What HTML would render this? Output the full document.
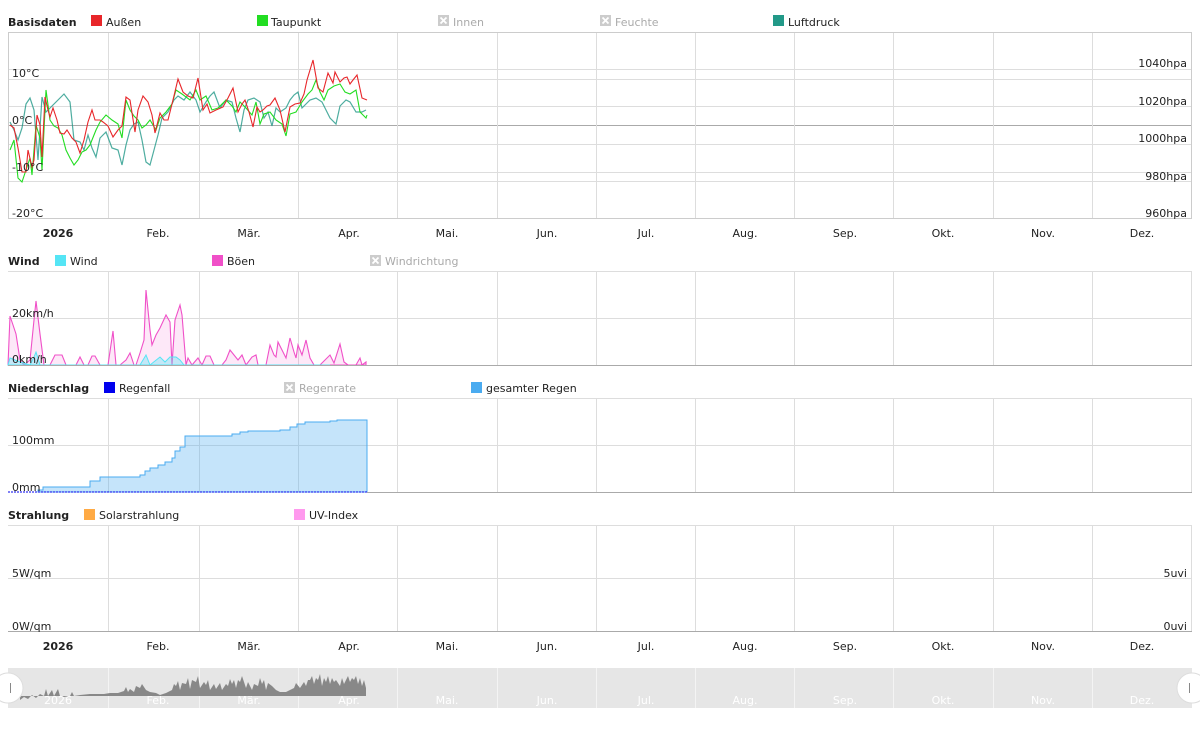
<!DOCTYPE html>
<html><head><meta charset="utf-8"><style>
body{margin:0;background:#fff;width:1200px;height:750px;overflow:hidden}
svg text{font-family:"DejaVu Sans","Liberation Sans",sans-serif;font-size:11px;fill:#222}
.b{font-weight:bold}
.g{fill:#aaa}
</style></head><body>
<svg width="1200" height="750" xmlns="http://www.w3.org/2000/svg">
<!-- Panel 1 -->
<text x="8" y="26" class="b">Basisdaten</text>
<rect x="91" y="15" width="11" height="11" fill="#e8262a"/><text x="106" y="26">Außen</text>
<rect x="257" y="15" width="11" height="11" fill="#22dd22"/><text x="271" y="26">Taupunkt</text>
<rect x="438" y="15" width="11" height="11" fill="#ccc"/><path d="M440.5,17.5l6,6M446.5,17.5l-6,6" stroke="#fff" stroke-width="1.8"/><text x="453" y="26" class="g">Innen</text>
<rect x="600" y="15" width="11" height="11" fill="#ccc"/><path d="M602.5,17.5l6,6M608.5,17.5l-6,6" stroke="#fff" stroke-width="1.8"/><text x="615" y="26" class="g">Feuchte</text>
<rect x="773" y="15" width="11" height="11" fill="#229988"/><text x="788" y="26">Luftdruck</text>
<g stroke="#ddd"><line x1="8" x2="1192" y1="69.5" y2="69.5"/><line x1="8" x2="1192" y1="79.5" y2="79.5"/><line x1="8" x2="1192" y1="106.5" y2="106.5"/><line x1="8" x2="1192" y1="144.5" y2="144.5"/><line x1="8" x2="1192" y1="172.5" y2="172.5"/><line x1="8" x2="1192" y1="181.5" y2="181.5"/></g>
<line x1="8" x2="1192" y1="125.5" y2="125.5" stroke="#aaa"/>
<g stroke="#ddd"><line x1="108.5" x2="108.5" y1="32" y2="218"/><line x1="199.5" x2="199.5" y1="32" y2="218"/><line x1="298.5" x2="298.5" y1="32" y2="218"/><line x1="397.5" x2="397.5" y1="32" y2="218"/><line x1="497.5" x2="497.5" y1="32" y2="218"/><line x1="596.5" x2="596.5" y1="32" y2="218"/><line x1="695.5" x2="695.5" y1="32" y2="218"/><line x1="794.5" x2="794.5" y1="32" y2="218"/><line x1="893.5" x2="893.5" y1="32" y2="218"/><line x1="993.5" x2="993.5" y1="32" y2="218"/><line x1="1092.5" x2="1092.5" y1="32" y2="218"/></g>
<rect x="8.5" y="32.5" width="1183" height="186" fill="none" stroke="#ccc"/>
<polyline fill="none" stroke="#229988" stroke-opacity=".8" stroke-width="1.2" points="10,122 14,130 18,140 22,128 26,104 30,98 34,110 38,160 42,97 46,112 52,106 58,100 64,94 70,102 74,140 80,142 84,150 88,135 92,148 96,157 100,138 106,132 112,148 118,150 122,165 126,145 130,130 134,124 138,122 142,140 146,162 150,165 154,150 158,135 162,118 168,112 174,100 178,96 184,100 190,92 196,100 200,112 206,102 210,96 214,92 220,108 226,100 232,102 236,118 240,132 244,110 248,100 254,98 260,102 264,118 268,112 272,126 276,108 280,112 286,108 290,100 294,95 298,92 302,108 310,100 316,98 322,102 326,110 330,118 336,124 340,106 346,100 350,102 356,112 362,112 366,110"/>
<polyline fill="none" stroke="#22dd22" stroke-width="1.1" points="10,150 14,140 18,178 22,182 26,170 30,158 32,175 36,125 40,138 42,170 46,90 50,120 54,126 58,128 62,135 66,150 70,158 74,165 78,160 82,152 86,150 90,145 96,130 100,122 106,115 112,120 118,124 122,138 126,100 130,110 134,116 138,120 142,128 146,125 150,120 156,130 160,118 166,112 172,104 176,90 182,94 190,100 196,90 200,100 206,96 212,110 218,108 226,100 232,106 236,112 240,102 246,108 252,115 256,102 260,124 264,114 270,112 276,120 282,124 286,136 290,114 296,112 302,102 308,94 312,90 316,80 320,92 324,100 328,90 334,86 340,84 345,92 350,94 356,90 360,112 366,118 367,115"/>
<polyline fill="none" stroke="#e8262a" stroke-width="1.1" points="10,125 14,128 18,148 22,172 26,172 28,150 32,167 34,160 37,115 40,125 42,157 45,97 48,110 50,117 53,108 57,120 60,133 64,134 67,130 72,138 76,142 80,153 84,140 88,122 92,110 95,120 100,120 103,122 108,126 113,137 118,130 122,126 126,97 130,100 135,132 138,110 143,96 148,102 152,115 155,133 160,113 164,120 168,120 173,100 178,79 183,92 188,96 193,98 198,78 203,110 207,104 210,113 216,110 223,107 228,98 233,88 238,112 242,104 245,100 249,112 253,127 257,107 260,112 263,110 267,106 270,105 275,98 280,110 285,132 290,107 295,104 300,103 304,94 307,80 313,60 318,88 323,92 328,73 333,83 335,72 340,82 344,78 347,77 350,84 353,80 357,75 362,98 367,100"/>
<text x="12" y="77">10°C</text><text x="12" y="124">0°C</text><text x="12" y="171">-10°C</text><text x="12" y="217">-20°C</text>
<g text-anchor="end"><text x="1187" y="67">1040hpa</text><text x="1187" y="105">1020hpa</text><text x="1187" y="142">1000hpa</text><text x="1187" y="180">980hpa</text><text x="1187" y="217">960hpa</text></g>
<g text-anchor="middle"><text x="58" y="237" class="b">2026</text><text x="158" y="237">Feb.</text><text x="249" y="237">Mär.</text><text x="349" y="237">Apr.</text><text x="447" y="237">Mai.</text><text x="547" y="237">Jun.</text><text x="646" y="237">Jul.</text><text x="745" y="237">Aug.</text><text x="845" y="237">Sep.</text><text x="943" y="237">Okt.</text><text x="1043" y="237">Nov.</text><text x="1142" y="237">Dez.</text></g>

<!-- Panel 2 Wind -->
<text x="8" y="265" class="b">Wind</text>
<rect x="55" y="255" width="11" height="11" fill="#55e5f5"/><text x="70" y="265">Wind</text>
<rect x="212" y="255" width="11" height="11" fill="#f050c8"/><text x="227" y="265">Böen</text>
<rect x="370" y="255" width="11" height="11" fill="#ccc"/><path d="M372.5,257.5l6,6M378.5,257.5l-6,6" stroke="#fff" stroke-width="1.8"/><text x="385" y="265" class="g">Windrichtung</text>
<line x1="8" x2="1192" y1="271.5" y2="271.5" stroke="#ddd"/>
<line x1="8" x2="1192" y1="318.5" y2="318.5" stroke="#ddd"/>
<g stroke="#ddd"><line x1="108.5" x2="108.5" y1="271" y2="365"/><line x1="199.5" x2="199.5" y1="271" y2="365"/><line x1="298.5" x2="298.5" y1="271" y2="365"/><line x1="397.5" x2="397.5" y1="271" y2="365"/><line x1="497.5" x2="497.5" y1="271" y2="365"/><line x1="596.5" x2="596.5" y1="271" y2="365"/><line x1="695.5" x2="695.5" y1="271" y2="365"/><line x1="794.5" x2="794.5" y1="271" y2="365"/><line x1="893.5" x2="893.5" y1="271" y2="365"/><line x1="993.5" x2="993.5" y1="271" y2="365"/><line x1="1092.5" x2="1092.5" y1="271" y2="365"/><line x1="1191.5" x2="1191.5" y1="271" y2="365"/></g>
<polygon fill="#f050c8" fill-opacity=".13" stroke="#f050c8" stroke-width="1.1" points="10,316 16,334 20,360 24,365 30,360 34,320 36,301 40,334 44,365 50,365 55,355 62,355 66,365 70,365 76,365 80,357 84,365 88,365 92,356 95,356 100,365 108,365 113,331 116,365 120,365 126,360 130,353 134,365 136,365 140,353 144,340 146,290 150,330 152,345 156,335 160,328 166,315 170,322 172,365 175,320 180,305 182,315 186,365 188,358 192,365 198,358 202,365 206,356 210,356 214,365 222,365 226,360 230,350 234,355 238,360 242,355 246,365 252,357 256,355 258,365 266,365 270,345 274,355 276,357 278,342 282,350 286,358 290,338 294,352 296,358 298,345 302,355 306,340 310,358 314,365 320,365 330,355 334,363 340,344 344,362 348,365 356,365 360,358 362,365 366,362 366,365 8,365"/>
<polygon fill="#55e5f5" fill-opacity=".35" stroke="#55e5f5" stroke-width="1" points="10,358 20,362 30,365 34,357 36,352 40,365 140,365 146,355 150,365 160,357 165,362 170,357 176,357 180,360 184,365 330,365 8,365"/>
<line x1="8" x2="1192" y1="365.5" y2="365.5" stroke="#aaa"/>
<text x="12" y="317">20km/h</text><text x="12" y="363">0km/h</text>

<!-- Panel 3 Niederschlag -->
<text x="8" y="392" class="b">Niederschlag</text>
<rect x="104" y="382" width="11" height="11" fill="#0000ee"/><text x="119" y="392">Regenfall</text>
<rect x="284" y="382" width="11" height="11" fill="#ccc"/><path d="M286.5,384.5l6,6M292.5,384.5l-6,6" stroke="#fff" stroke-width="1.8"/><text x="299" y="392" class="g">Regenrate</text>
<rect x="471" y="382" width="11" height="11" fill="#4aabf0"/><text x="486" y="392">gesamter Regen</text>
<line x1="8" x2="1192" y1="398.5" y2="398.5" stroke="#ddd"/>
<line x1="8" x2="1192" y1="445.5" y2="445.5" stroke="#ddd"/>
<g stroke="#ddd"><line x1="108.5" x2="108.5" y1="398" y2="492"/><line x1="199.5" x2="199.5" y1="398" y2="492"/><line x1="298.5" x2="298.5" y1="398" y2="492"/><line x1="397.5" x2="397.5" y1="398" y2="492"/><line x1="497.5" x2="497.5" y1="398" y2="492"/><line x1="596.5" x2="596.5" y1="398" y2="492"/><line x1="695.5" x2="695.5" y1="398" y2="492"/><line x1="794.5" x2="794.5" y1="398" y2="492"/><line x1="893.5" x2="893.5" y1="398" y2="492"/><line x1="993.5" x2="993.5" y1="398" y2="492"/><line x1="1092.5" x2="1092.5" y1="398" y2="492"/><line x1="1191.5" x2="1191.5" y1="398" y2="492"/></g>
<polygon fill="#4aabf0" fill-opacity=".32" stroke="#4aabf0" stroke-width="1" points="38,492 38,490 43,490 43,487 90,487 90,481 100,481 100,477 140,477 140,475 145,475 145,471 150,471 150,468 158,468 158,465 165,465 165,462 172,462 172,458 175,458 175,451 180,451 180,447 185,447 185,436 232,436 232,434 240,434 240,432 248,432 248,431 280,431 280,430 290,430 290,427 297,427 297,424 305,424 305,422 330,422 330,421 337,421 337,420 367,420 367,492"/>
<line x1="8" x2="367" y1="492" y2="492" stroke="#0000ee" stroke-dasharray="2,1"/>
<line x1="367" x2="1192" y1="492.5" y2="492.5" stroke="#aaa"/>
<text x="12" y="444">100mm</text><text x="12" y="491">0mm</text>

<!-- Panel 4 Strahlung -->
<text x="8" y="519" class="b">Strahlung</text>
<rect x="84" y="509" width="11" height="11" fill="#ffaa44"/><text x="99" y="519">Solarstrahlung</text>
<rect x="294" y="509" width="11" height="11" fill="#ff99ee"/><text x="309" y="519">UV-Index</text>
<line x1="8" x2="1192" y1="525.5" y2="525.5" stroke="#ddd"/>
<line x1="8" x2="1192" y1="578.5" y2="578.5" stroke="#ddd"/>
<g stroke="#ddd"><line x1="108.5" x2="108.5" y1="525" y2="631"/><line x1="199.5" x2="199.5" y1="525" y2="631"/><line x1="298.5" x2="298.5" y1="525" y2="631"/><line x1="397.5" x2="397.5" y1="525" y2="631"/><line x1="497.5" x2="497.5" y1="525" y2="631"/><line x1="596.5" x2="596.5" y1="525" y2="631"/><line x1="695.5" x2="695.5" y1="525" y2="631"/><line x1="794.5" x2="794.5" y1="525" y2="631"/><line x1="893.5" x2="893.5" y1="525" y2="631"/><line x1="993.5" x2="993.5" y1="525" y2="631"/><line x1="1092.5" x2="1092.5" y1="525" y2="631"/><line x1="1191.5" x2="1191.5" y1="525" y2="631"/></g>
<line x1="8" x2="1192" y1="631.5" y2="631.5" stroke="#aaa"/>
<text x="12" y="577">5W/qm</text><text x="12" y="630">0W/qm</text>
<g text-anchor="end"><text x="1187" y="577">5uvi</text><text x="1187" y="630">0uvi</text></g>
<g text-anchor="middle"><text x="58" y="650" class="b">2026</text><text x="158" y="650">Feb.</text><text x="249" y="650">Mär.</text><text x="349" y="650">Apr.</text><text x="447" y="650">Mai.</text><text x="547" y="650">Jun.</text><text x="646" y="650">Jul.</text><text x="745" y="650">Aug.</text><text x="845" y="650">Sep.</text><text x="943" y="650">Okt.</text><text x="1043" y="650">Nov.</text><text x="1142" y="650">Dez.</text></g>

<!-- Navigator -->
<rect x="8" y="668" width="1184" height="40" fill="#e6e6e6"/>
<g stroke="#f4f4f4"><line x1="108.5" x2="108.5" y1="668" y2="708"/><line x1="199.5" x2="199.5" y1="668" y2="708"/><line x1="298.5" x2="298.5" y1="668" y2="708"/><line x1="397.5" x2="397.5" y1="668" y2="708"/><line x1="497.5" x2="497.5" y1="668" y2="708"/><line x1="596.5" x2="596.5" y1="668" y2="708"/><line x1="695.5" x2="695.5" y1="668" y2="708"/><line x1="794.5" x2="794.5" y1="668" y2="708"/><line x1="893.5" x2="893.5" y1="668" y2="708"/><line x1="993.5" x2="993.5" y1="668" y2="708"/><line x1="1092.5" x2="1092.5" y1="668" y2="708"/></g>
<polygon fill="#888" points="20,700 24,697 28,699 32,695 36,698 40,694 44,696 46,689 48,696 52,690 54,696 58,689 60,696 64,697 70,696 72,692 74,696 80,695 90,694 96,694 104,694 110,693 118,693 124,691 126,687 128,692 130,689 134,692 136,686 140,688 142,684 146,690 150,692 156,693 160,695 166,693 172,690 174,684 176,686 178,681 180,690 182,683 186,684 188,678 190,689 192,680 196,682 198,676 200,688 204,682 206,685 208,680 210,690 214,684 216,689 220,683 222,690 226,684 228,686 230,679 232,684 234,680 236,688 238,680 240,682 242,676 246,688 248,682 252,690 254,684 258,686 260,678 262,684 264,680 266,690 268,683 272,686 276,690 280,692 286,692 290,690 294,688 296,683 300,688 304,682 306,686 308,680 310,680 312,676 314,684 316,678 318,680 320,674 322,686 324,678 326,682 328,676 330,684 332,678 334,682 336,680 340,686 342,678 344,684 348,676 350,682 352,678 354,680 356,676 358,684 360,678 362,686 364,680 366,688 366,696 20,696"/>
<g text-anchor="middle"><text x="58" y="704" style="fill:#fff">2026</text><text x="158" y="704" style="fill:#fff">Feb.</text><text x="249" y="704" style="fill:#fff">Mär.</text><text x="349" y="704" style="fill:#fff">Apr.</text><text x="447" y="704" style="fill:#fff">Mai.</text><text x="547" y="704" style="fill:#fff">Jun.</text><text x="646" y="704" style="fill:#fff">Jul.</text><text x="745" y="704" style="fill:#fff">Aug.</text><text x="845" y="704" style="fill:#fff">Sep.</text><text x="943" y="704" style="fill:#fff">Okt.</text><text x="1043" y="704" style="fill:#fff">Nov.</text><text x="1142" y="704" style="fill:#fff">Dez.</text></g>
<circle cx="8" cy="688" r="15" fill="#fff" stroke="#ddd"/><line x1="10.5" x2="10.5" y1="683" y2="693" stroke="#888"/>
<circle cx="1192" cy="688" r="15" fill="#fff" stroke="#ddd"/><line x1="1189.5" x2="1189.5" y1="683" y2="693" stroke="#888"/>
</svg>
</body></html>
